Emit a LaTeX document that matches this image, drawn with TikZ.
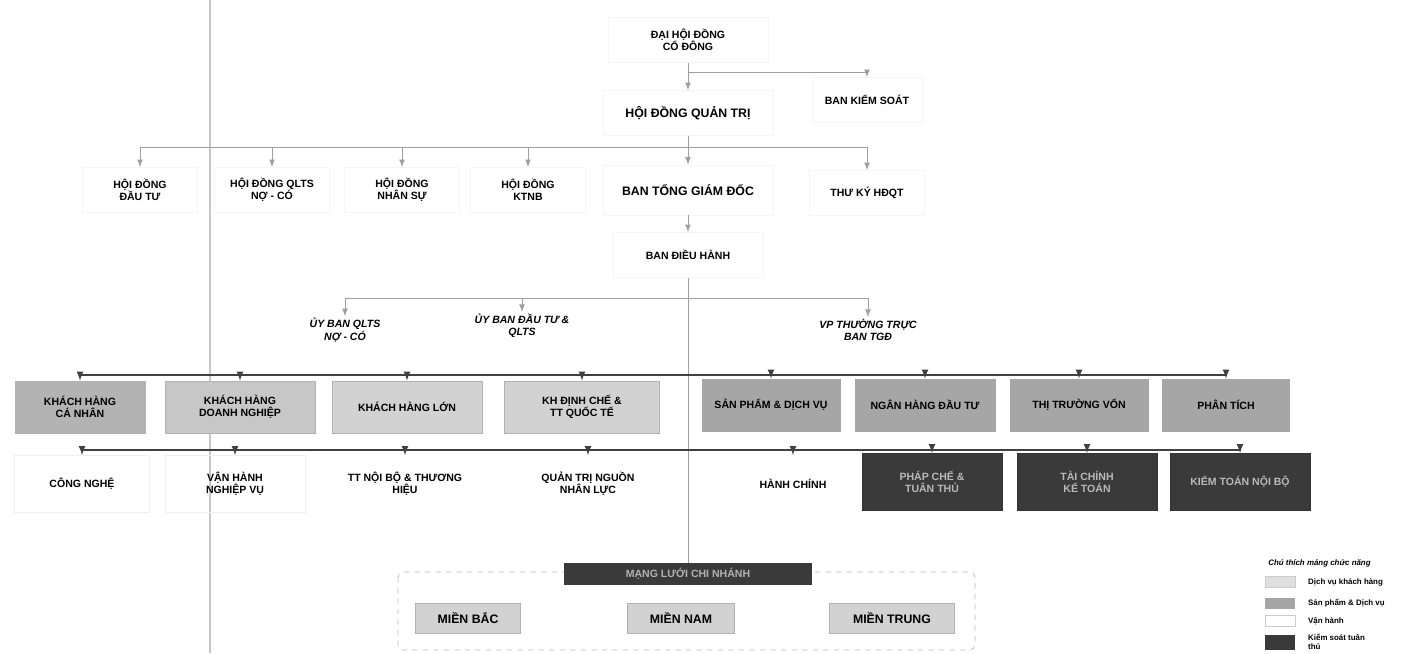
\documentclass[tikz,border=0pt]{standalone}
\usepackage{fontspec}
\setmainfont{Liberation Sans}
\usetikzlibrary{arrows,positioning}
\definecolor{svcgray}{HTML}{D2D2D2}
\definecolor{prodgray}{HTML}{A6A6A6}
\definecolor{ctrlgray}{HTML}{3A3A3A}
\tikzset{unit/.style={align=center,inner sep=1pt,
        font=\fontsize{6}{7}\selectfont\bfseries},
    topbox/.style={unit,draw=gray!8,minimum width=#1,minimum height=0.9cm},
    topbox/.default=2.3cm,
    board/.style={unit,font=\fontsize{7}{8}\selectfont\bfseries},
    committee/.style={unit,font=\fontsize{6}{7}\selectfont\bfseries\itshape},
    svcbox/.style={unit,fill=svcgray,draw=gray!60,minimum width=#1,minimum height=1.04cm},
    prodbox/.style={unit,fill=prodgray,draw=gray!70,minimum width=#1,minimum height=1.04cm},
    opsbox/.style={unit,draw=gray!12,minimum width=#1,minimum height=1.14cm},
    ctrlbox/.style={unit,fill=ctrlgray,draw=black!80,text=gray!55,minimum width=#1,minimum height=1.14cm},
    link/.style={draw=gray!75,line width=0.5pt},
    bus/.style={draw=black!75,line width=0.8pt},
    legtext/.style={font=\fontsize{4.5}{5}\selectfont\bfseries,align=left,inner sep=0pt},
    swatch/.style={minimum width=0.6cm,minimum height=0.22cm,inner sep=0pt}}
\begin{document}
\begin{tikzpicture}[x=0.02cm,y=-0.02cm,>=latex]
\useasboundingbox (0,0) rectangle (1412,653);
% scan fold line
\draw[gray!45,line width=1.6pt] (210,0) -- (210,653);

% governance
\node[topbox=3.2cm] (dhdcd) at (688,40) {ĐẠI HỘI ĐỒNG\\CỔ ĐÔNG};
\node[board,draw=gray!8,minimum width=3.4cm,minimum height=0.9cm] (hdqt) at (688,113) {HỘI ĐỒNG QUẢN TRỊ};
\node[topbox=2.2cm] (bks) at (867,100) {BAN KIỂM SOÁT};

\node[topbox] (hddt) at (140,190) {HỘI ĐỒNG\\ĐẦU TƯ};
\node[topbox] (hdqlts) at (272,190) {HỘI ĐỒNG QLTS\\NỢ - CÓ};
\node[topbox] (hdns) at (402,190) {HỘI ĐỒNG\\NHÂN SỰ};
\node[topbox] (hdktnb) at (528,190) {HỘI ĐỒNG\\KTNB};
\node[board,draw=gray!8,minimum width=3.4cm,minimum height=1cm] (btgd) at (688,190) {BAN TỔNG GIÁM ĐỐC};
\node[topbox] (tkhdqt) at (867,193) {THƯ KÝ HĐQT};
\node[topbox=3cm] (bdh) at (688,255) {BAN ĐIỀU HÀNH};

\node[committee] (ubqlts) at (345,330) {ỦY BAN QLTS\\NỢ - CÓ};
\node[committee] (ubdt) at (522,326) {ỦY BAN ĐẦU TƯ \&\\QLTS};
\node[committee] (vptt) at (868,330) {VP THƯỜNG TRỰC\\BAN TGĐ};

% customer and product units
\node[svcbox=2.6cm,fill=prodgray!85] (khcn) at (80,407) {KHÁCH HÀNG\\CÁ NHÂN};
\node[svcbox=3cm,fill=svcgray!95!black] (khdn) at (240,407) {KHÁCH HÀNG\\DOANH NGHIỆP};
\node[svcbox=3cm] (khl) at (407,407) {KHÁCH HÀNG LỚN};
\node[svcbox=3.1cm] (dcqt) at (582,407) {KH ĐỊNH CHẾ \&\\TT QUỐC TẾ};
\node[prodbox=2.76cm] (spdv) at (771,405) {SẢN PHẨM \& DỊCH VỤ};
\node[prodbox=2.8cm] (nhdt) at (925,405) {NGÂN HÀNG ĐẦU TƯ};
\node[prodbox=2.76cm] (ttv) at (1079,405) {THỊ TRƯỜNG VỐN};
\node[prodbox=2.54cm] (pt) at (1226,405) {PHÂN TÍCH};

% operations and control units
\node[opsbox=2.7cm] (cn) at (82,484) {CÔNG NGHỆ};
\node[opsbox=2.8cm] (vhnv) at (235,484) {VẬN HÀNH\\NGHIỆP VỤ};
\node[opsbox=3.3cm,draw=none] (ttnb) at (405,484) {TT NỘI BỘ \& THƯƠNG\\HIỆU};
\node[opsbox=3.2cm,draw=none] (qtnnl) at (588,484) {QUẢN TRỊ NGUỒN\\NHÂN LỰC};
\node[opsbox=3cm,draw=none] (hc) at (793,484) {HÀNH CHÍNH};
\node[ctrlbox=2.8cm] (pctt) at (932,482) {PHÁP CHẾ \&\\TUÂN THỦ};
\node[ctrlbox=2.8cm] (tckt) at (1087,482) {TÀI CHÍNH\\KẾ TOÁN};
\node[ctrlbox=2.8cm] (ktnb) at (1240,482) {KIỂM TOÁN NỘI BỘ};

% branch network
\draw[gray!55,dashed,rounded corners=3pt] (398,572) rectangle (975,650);
\node[unit,fill=ctrlgray,text=gray!60,minimum width=4.96cm,minimum height=0.44cm] (mlcn) at (688,574) {MẠNG LƯỚI CHI NHÁNH};
\node[svcbox=2.1cm,minimum height=0.6cm,font=\fontsize{7}{8}\selectfont\bfseries] (mb) at (468,618) {MIỀN BẮC};
\node[svcbox=2.14cm,minimum height=0.6cm,font=\fontsize{7}{8}\selectfont\bfseries] (mn) at (681,618) {MIỀN NAM};
\node[svcbox=2.5cm,minimum height=0.6cm,font=\fontsize{7}{8}\selectfont\bfseries] (mt) at (892,618) {MIỀN TRUNG};

% connectors
\coordinate (j0) at (688,72);
\coordinate (j1) at (688,147);
\coordinate (j2) at (688,298);
\coordinate (j3) at (688,375);
\coordinate (j4) at (688,450);
\draw[link] (dhdcd) -- (j0);
\draw[link,->] (j0) -- (hdqt);
\draw[link,->] (j0) -| (bks);
\draw[link] (hdqt) -- (j1);
\foreach \n in {hddt,hdqlts,hdns,hdktnb,btgd,tkhdqt}
    \draw[link,->] (j1) -| (\n);
\draw[link,->] (btgd) -- (bdh);
\draw[link] (bdh) -- (mlcn);
\foreach \n in {ubqlts,ubdt,vptt}
    \draw[link,->] (j2) -| (\n);
\foreach \n in {khcn,khdn,khl,dcqt,spdv,nhdt,ttv,pt}
    \draw[bus,->] (j3) -| (\n);
\foreach \n in {cn,vhnv,ttnb,qtnnl,hc,pctt,tckt,ktnb}
    \draw[bus,->] (j4) -| (\n);

% legend
\node[legtext,font=\fontsize{4.5}{5}\selectfont\bfseries\itshape,anchor=west] (legtitle) at (1268,563) {Chú thích mảng chức năng};
\node[swatch,fill=svcgray!70,draw=gray!40] (lg1) at (1280,582) {};
\node[swatch,fill=prodgray] (lg2) at (1280,603) {};
\node[swatch,draw=gray!40] (lg3) at (1280,621) {};
\node[swatch,fill=ctrlgray,minimum height=0.3cm] (lg4) at (1280,642) {};
\node[legtext,right=0.25cm of lg1] {Dịch vụ khách hàng};
\node[legtext,right=0.25cm of lg2] {Sản phẩm \& Dịch vụ};
\node[legtext,right=0.25cm of lg3] {Vận hành};
\node[legtext,right=0.25cm of lg4] {Kiểm soát tuân\\thủ};
\end{tikzpicture}
\end{document}
